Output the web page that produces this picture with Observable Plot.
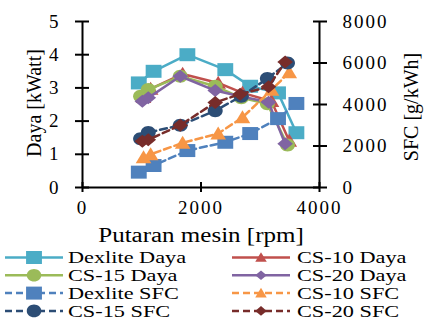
<!DOCTYPE html>
<html>
<head>
<meta charset="utf-8">
<script src="https://cdn.jsdelivr.net/npm/d3@7"></script>
<script src="https://cdn.jsdelivr.net/npm/@observablehq/plot@0.6"></script>
<style>
  body { margin: 0; background: #fff; font-family: "Liberation Serif", "Times New Roman", Times, "DejaVu Serif", serif; }
  #wrap { position: relative; width: 424px; height: 320px; overflow: hidden; background: #fff; }
  #chart { position: absolute; left: 0; top: 0; }
  #chart svg text { letter-spacing: 2px; font-family: "Liberation Serif", "Times New Roman", Times, "DejaVu Serif", serif; }
  .t { position: absolute; white-space: nowrap; color: #000; line-height: 1; font-family: "Liberation Serif", "Times New Roman", Times, "DejaVu Serif", serif; }
  #legendSvg { position: absolute; left: 0; top: 0; }
</style>
</head>
<body>
<div id="wrap">
  <div id="chart"></div>
  <svg id="legendSvg" width="424" height="320"></svg>
</div>
<script>
// ---------- data ----------
const rpmDexlite = [950, 1200, 1770, 2410, 2830, 3300, 3610];
const rpmCS10    = [1030, 1150, 1690, 2290, 2700, 3190, 3490];
const rpmCS15    = [980, 1110, 1650, 2240, 2680, 3120, 3460];
const rpmCS20    = [1010, 1110, 1650, 2240, 2660, 3140, 3420];

const dexliteDaya = [3.15, 3.5, 4.0, 3.55, 3.05, 2.85, 1.65];
const cs10Daya    = [2.72, 2.97, 3.42, 3.15, 2.85, 2.6, 1.4];
const cs15Daya    = [2.75, 2.95, 3.35, 3.05, 2.7, 2.52, 1.28];
const cs20Daya    = [2.6, 2.7, 3.35, 2.92, 2.75, 2.57, 1.32];

const dexliteSFC = [740, 1060, 1780, 2180, 2600, 3320, 4050];
const cs10SFC    = [1450, 1600, 2150, 2600, 3380, 4700, 5550];
const cs15SFC    = [2350, 2650, 3000, 3700, 4400, 5250, 6000];
const cs20SFC    = [2230, 2300, 3000, 4100, 4500, 4850, 6050];

const seriesNames = ["Dexlite Daya", "CS-10 Daya", "CS-15 Daya", "CS-20 Daya",
                     "Dexlite SFC", "CS-10 SFC", "CS-15 SFC", "CS-20 SFC"];
const tickRpm  = [0, 2000, 4000];
const tickDaya = [0, 1, 2, 3, 4, 5];
const tickSFC  = [0, 2000, 4000, 6000, 8000];
const xTitle = "Putaran mesin [rpm]";
const yLeftTitle = "Daya [kWatt]";
const yRightTitle = "SFC [g/kWh]";

// ---------- symbols (slightly wide, like the reference) ----------
const rOf = size => Math.sqrt(size / Math.PI);
const SQ = { draw(c, s) { const r = rOf(s), a = r * 1.22, b = r;
  c.moveTo(-a, -b); c.lineTo(a, -b); c.lineTo(a, b); c.lineTo(-a, b); c.closePath(); } };
const CI = { draw(c, s) { const r = rOf(s), a = r * 1.15, b = r, k = 0.5523;
  c.moveTo(a, 0);
  c.bezierCurveTo(a, b * k, a * k, b, 0, b);
  c.bezierCurveTo(-a * k, b, -a, b * k, -a, 0);
  c.bezierCurveTo(-a, -b * k, -a * k, -b, 0, -b);
  c.bezierCurveTo(a * k, -b, a, -b * k, a, 0);
  c.closePath(); } };
const TR = { draw(c, s) { const r = rOf(s), a = r * 1.2;
  c.moveTo(0, -r * 1.1); c.lineTo(a, r * 0.9); c.lineTo(-a, r * 0.9); c.closePath(); } };
const DI = { draw(c, s) { const r = rOf(s), a = r * 1.2, b = r;
  c.moveTo(0, -b); c.lineTo(a, 0); c.lineTo(0, b); c.lineTo(-a, 0); c.closePath(); } };

const DASH = "7,4";
const styles = {
  "Dexlite Daya": { color: "#4BACC6", sym: SQ, dash: null, lr: 6.5 },
  "CS-10 Daya":   { color: "#C0504D", sym: TR, dash: null, lr: 4.8 },
  "CS-15 Daya":   { color: "#9BBB59", sym: CI, dash: null, lr: 6.3 },
  "CS-20 Daya":   { color: "#8064A2", sym: DI, dash: null, lr: 4.8 },
  "Dexlite SFC":  { color: "#4F81BD", sym: SQ, dash: DASH, lr: 6.5 },
  "CS-10 SFC":    { color: "#F79646", sym: TR, dash: DASH, lr: 4.8 },
  "CS-15 SFC":    { color: "#2C4D75", sym: CI, dash: DASH, lr: 6.3 },
  "CS-20 SFC":    { color: "#772C2A", sym: DI, dash: DASH, lr: 4.8 }
};

const SFC_MAX = 8000, DAYA_MAX = 5;
const toY = v => v * DAYA_MAX / SFC_MAX;

const defs = [
  { name: seriesNames[0], rpm: rpmDexlite, v: dexliteDaya, sfc: false },
  { name: seriesNames[1], rpm: rpmCS10,    v: cs10Daya,    sfc: false },
  { name: seriesNames[2], rpm: rpmCS15,    v: cs15Daya,    sfc: false },
  { name: seriesNames[3], rpm: rpmCS20,    v: cs20Daya,    sfc: false },
  { name: seriesNames[4], rpm: rpmDexlite, v: dexliteSFC,  sfc: true },
  { name: seriesNames[5], rpm: rpmCS10,    v: cs10SFC,     sfc: true },
  { name: seriesNames[6], rpm: rpmCS15,    v: cs15SFC,     sfc: true },
  { name: seriesNames[7], rpm: rpmCS20,    v: cs20SFC,     sfc: true }
];

const marks = [
  Plot.ruleX([0, 4000], { stroke: "#000", strokeWidth: 2 }),
  Plot.ruleY([0], { stroke: "#000", strokeWidth: 2 }),
  Plot.axisY({ anchor: "left", ticks: tickDaya, tickFormat: d => String(d),
               tickSize: 14, dx: 7, tickPadding: 15, strokeWidth: 2, label: null }),
  Plot.axisY({ anchor: "right", ticks: tickSFC.map(toY),
               tickFormat: d => String(Math.round(d * SFC_MAX / DAYA_MAX)),
               tickSize: 14, dx: -7, tickPadding: 16, strokeWidth: 2, label: null }),
  Plot.axisX({ ticks: tickRpm, tickFormat: d => String(d),
               tickSize: 10, dy: -5, tickPadding: 8, strokeWidth: 2, label: null })
];

for (const d of defs) {
  const st = styles[d.name];
  const data = d.rpm.map((r, i) => ({ rpm: r, y: d.sfc ? toY(d.v[i]) : d.v[i] }));
  marks.push(Plot.line(data, { x: "rpm", y: "y", stroke: st.color, strokeWidth: 2.5,
                               strokeDasharray: st.dash || undefined }));
  marks.push(Plot.dot(data, { x: "rpm", y: "y", symbol: st.sym, r: 6.5,
                              fill: st.color, stroke: "none" }));
}

const chart = Plot.plot({
  width: 424, height: 218,
  marginLeft: 82, marginRight: 105, marginTop: 21, marginBottom: 31,
  x: { domain: [0, 4000] },
  y: { domain: [0, 5] },
  style: { fontFamily: "'Liberation Serif', 'Times New Roman', Times, 'DejaVu Serif', serif", fontSize: "19px", background: "transparent", color: "#000", overflow: "visible" },
  marks
});
document.getElementById("chart").appendChild(chart);

// ---------- titles ----------
const wrap = document.getElementById("wrap");
function addText(txt, css) {
  const el = document.createElement("div");
  el.className = "t";
  el.textContent = txt;
  Object.assign(el.style, css);
  wrap.appendChild(el);
  return el;
}
addText(xTitle, { left: "200.8px", top: "225px", fontSize: "20px",
                  transform: "translateX(-50%) scaleX(1.25)", transformOrigin: "center" });
addText(yLeftTitle, { left: "34.3px", top: "103px", fontSize: "20px",
                      transform: "translate(-50%,-50%) rotate(-90deg)" });
addText(yRightTitle, { left: "410.5px", top: "106.5px", fontSize: "20px",
                       transform: "translate(-50%,-50%) rotate(-90deg)" });

// ---------- legend ----------
const lg = d3.select("#legendSvg");
const baselines = [263.5, 281.3, 299.1, 316.9];
const colLine = [[5, 63], [232, 290]];
const colText = [68, 297];
seriesNames.forEach((name, i) => {
  const st = styles[name];
  const row = Math.floor(i / 2), col = i % 2;
  const cy = baselines[row] - 6;
  const [x1, x2] = colLine[col];
  lg.append("line").attr("x1", x1).attr("x2", x2).attr("y1", cy).attr("y2", cy)
    .attr("stroke", st.color).attr("stroke-width", 2.5)
    .attr("stroke-dasharray", st.dash);
  const p = d3.path();
  st.sym.draw(p, st.lr * st.lr * Math.PI);
  lg.append("path").attr("d", p.toString())
    .attr("transform", `translate(${(x1 + x2) / 2},${cy})`)
    .attr("fill", st.color);
  addText(name, { left: colText[col] + "px", top: (baselines[row] - 14.24) + "px",
                  fontSize: "17px", transform: "scaleX(1.31)", transformOrigin: "left center" });
});
</script>
</body>
</html>
